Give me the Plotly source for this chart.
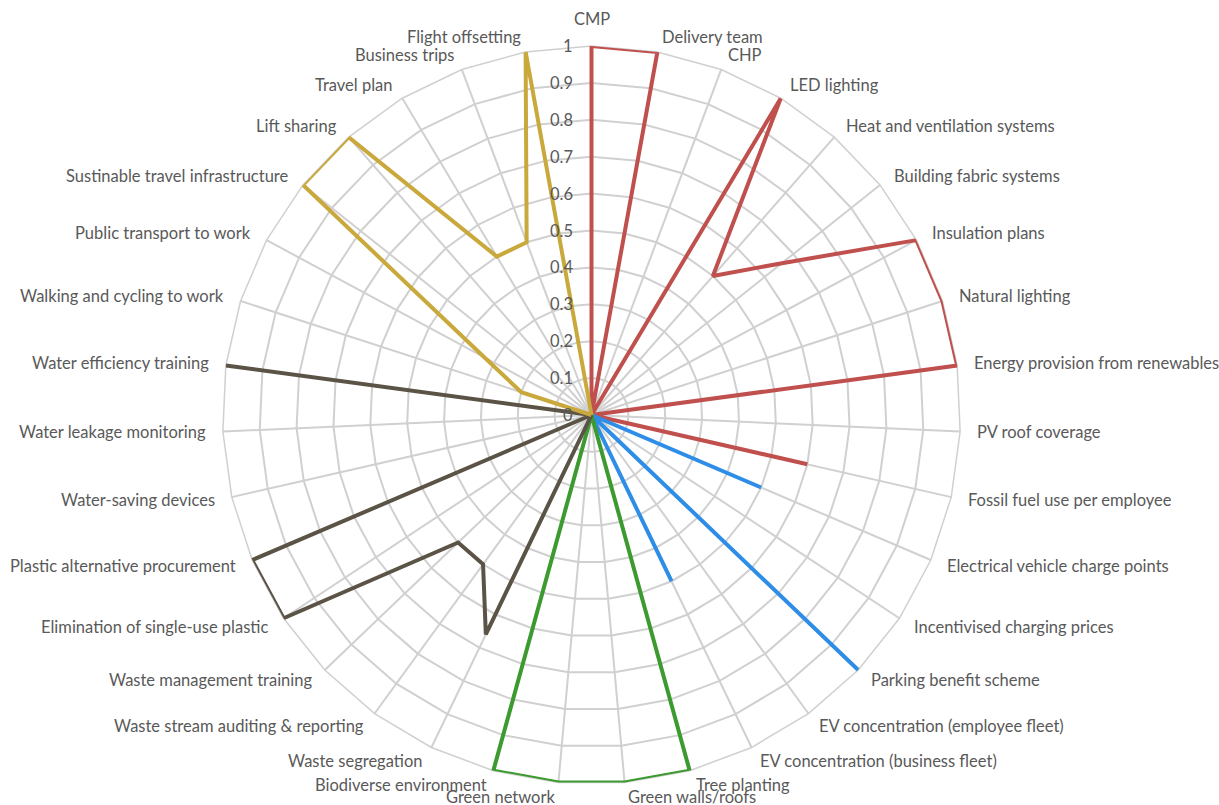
import math
import plotly.graph_objects as go

categories = [
    "CMP", "Delivery team", "CHP", "LED lighting", "Heat and ventilation systems",
    "Building fabric systems", "Insulation plans", "Natural lighting",
    "Energy provision from renewables", "PV roof coverage", "Fossil fuel use per employee",
    "Electrical vehicle charge points", "Incentivised charging prices", "Parking benefit scheme",
    "EV concentration (employee fleet)", "EV concentration (business fleet)", "Tree planting",
    "Green walls/roofs", "Green network", "Biodiverse environment", "Waste segregation",
    "Waste stream auditing & reporting", "Waste management training",
    "Elimination of single-use plastic", "Plastic alternative procurement",
    "Water-saving devices", "Water leakage monitoring", "Water efficiency training",
    "Walking and cycling to work", "Public transport to work",
    "Sustinable travel infrastructure", "Lift sharing", "Travel plan", "Business trips",
    "Flight offsetting",
]

energy = [1, 1, 0, 1, 0.5, 0.66, 1, 1, 1, 0, 0.6] + [0] * 24
ev_transport = [0] * 11 + [0.5, 0, 1, 0, 0.5] + [0] * 19
green_infra = [0] * 16 + [1, 1, 1, 1] + [0] * 15
waste_water = [0] * 20 + [0.66, 0.5, 0.5, 1, 1, 0, 0, 1] + [0] * 7
travel = [0] * 28 + [0.2, 0.33, 1, 1, 0.5, 0.5, 1]

radial_ticks = [0, 0.1, 0.2, 0.3, 0.4, 0.5, 0.6, 0.7, 0.8, 0.9, 1]
radial_ticktext = ["0", "0.1", "0.2", "0.3", "0.4", "0.5", "0.6", "0.7", "0.8", "0.9", "1"]

series = [
    (energy, "#C0504D"),
    (ev_transport, "#2E8DE6"),
    (green_infra, "#3C9A30"),
    (waste_water, "#5B5446"),
    (travel, "#C9A83C"),
]

W, H = 1219, 805
cx, cy, R = 591.5, 415, 369          # polar centre and radius in pixels
LABEL_GAP = 15                        # Excel-style category label distance
FONT = dict(size=16.5, color="#595959")

dom_x = [(cx - R) / W, (cx + R) / W]
dom_y = [1 - (cy + R) / H, 1 - (cy - R) / H]

fig = go.Figure()
for vals, col in series:
    fig.add_trace(go.Scatterpolar(
        r=vals + vals[:1],
        theta=categories + categories[:1],
        mode="lines",
        line=dict(color=col, width=4),
        cliponaxis=False,
        showlegend=False,
        hoverinfo="skip",
    ))

annotations = []
n = len(categories)
for i, c in enumerate(categories):
    th = math.radians(360 * i / n)
    s, co = math.sin(th), math.cos(th)
    px = cx + (R + LABEL_GAP) * s
    py = cy - (R + LABEL_GAP) * co
    if abs(s) < 1e-6:
        xa, ya = "center", ("bottom" if co > 0 else "top")
    else:
        xa, ya = ("left" if s > 0 else "right"), "middle"
    annotations.append(dict(
        x=px / W, y=1 - py / H, xref="paper", yref="paper",
        text=c, showarrow=False, xanchor=xa, yanchor=ya, font=FONT,
    ))

for v, t in zip(radial_ticks, radial_ticktext):
    annotations.append(dict(
        x=(cx - 17) / W, y=1 - (cy - R * v) / H, xref="paper", yref="paper",
        text=t, showarrow=False, xanchor="right", yanchor="middle", font=FONT,
    ))

grid = "#D0D0D0"
fig.update_layout(
    width=W, height=H,
    margin=dict(l=0, r=0, t=0, b=0),
    paper_bgcolor="white",
    font=dict(family="Lato, 'Open Sans', sans-serif", size=16.5, color="#595959"),
    annotations=annotations,
    polar=dict(
        domain=dict(x=dom_x, y=dom_y),
        bgcolor="white",
        gridshape="linear",
        angularaxis=dict(
            rotation=90, direction="clockwise",
            categoryorder="array", categoryarray=categories,
            showgrid=True, gridcolor=grid, gridwidth=1.5,
            showline=True, linecolor=grid, linewidth=1.5,
            ticks="", showticklabels=False,
            layer="below traces",
        ),
        radialaxis=dict(
            range=[0, 1], angle=90,
            tickvals=radial_ticks,
            showgrid=True, gridcolor=grid, gridwidth=1.5,
            showline=True, linecolor=grid, linewidth=1.5,
            ticks="", showticklabels=False,
            layer="below traces",
        ),
    ),
)

fig.write_html(
    "out.html",
    config={"displayModeBar": False},
    post_script="document.body.style.margin='0';document.body.style.overflow='hidden';",
)
